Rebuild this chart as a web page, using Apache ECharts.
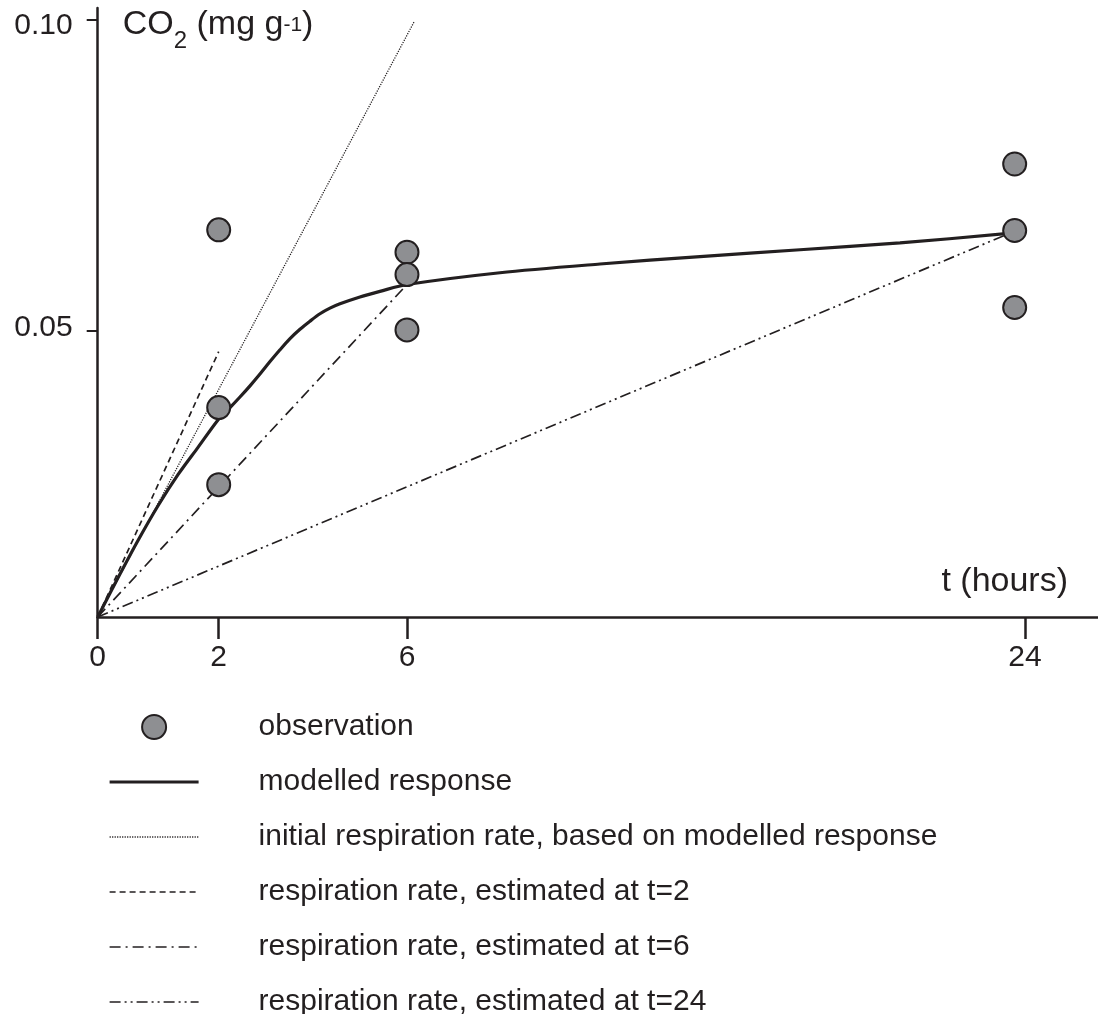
<!DOCTYPE html>
<html>
<head>
<meta charset="utf-8">
<title>CO2 respiration</title>
<script src="https://cdn.jsdelivr.net/npm/echarts@6/dist/echarts.min.js"></script>
<style>
  html, body { margin: 0; padding: 0; background: #fff; }
  #chart { width: 1098px; height: 1014px; }
</style>
</head>
<body>
<div id="chart"></div>
<script>
// ---- data ----
// hour ticks shown on the time axis
const hourTicks = [0, 2, 6, 24];
// CO2 ticks shown on the vertical axis
const co2Ticks = [0.05, 0.10];

// observations
const obsHours = [2, 2, 2, 6, 6, 6, 23.7, 23.7, 23.7];
const obsCO2 = [0.0662, 0.0376, 0.0252, 0.0626, 0.0590, 0.0501, 0.0768, 0.0661, 0.0537];

// modelled response curve
const modelHours = [0, 0.336, 0.666, 0.997, 1.327, 1.658, 2.006, 2.240, 2.452, 2.665, 2.877, 3.090,
  3.302, 3.515, 3.727, 3.939, 4.152, 4.364, 4.577, 5.001, 5.426, 6, 8.709, 11.622, 14.535, 17.448, 20.36, 23.68];
const modelCO2 = [0.0039, 0.0102, 0.0162, 0.0218, 0.0268, 0.0312, 0.0358, 0.0376, 0.0393, 0.0411, 0.0430, 0.0450,
  0.0469, 0.0487, 0.0502, 0.0515, 0.0527, 0.0536, 0.0543, 0.0554, 0.0563, 0.0574, 0.0593, 0.0607, 0.0619, 0.0630, 0.0641, 0.0657];

// respiration-rate lines (start, end)
const initialHours = [0, 6.21];
const initialCO2 = [0.0039, 0.0997];
const rate2Hours = [0, 2];
const rate2CO2 = [0.0039, 0.0466];
const rate6Hours = [0, 6];
const rate6CO2 = [0.0039, 0.0574];
const rate24Hours = [0, 23.7];
const rate24CO2 = [0.0039, 0.0660];

// ---- time axis scale: piecewise-linear, compressed beyond 2 h ----
const X_SCALE = { hours: [0, 2, 6, 24], units: [0, 2, 5.112, 15.327] };
const X_MAX = 16.534;
const Y_MIN = 0.0039;
const Y_MAX = 0.1019;

function toUnits(h) {
  const H = X_SCALE.hours, U = X_SCALE.units;
  for (let i = 1; i < H.length; i++) {
    if (h <= H[i] || i === H.length - 1) {
      const f = (h - H[i - 1]) / (H[i] - H[i - 1]);
      return U[i - 1] + f * (U[i] - U[i - 1]);
    }
  }
  return U[U.length - 1];
}
function pairs(hs, vs) { return hs.map((h, i) => [toUnits(h), vs[i]]); }

const INK = '#231f20';
const FONT = '"Liberation Sans", Arial, Helvetica, sans-serif';
const hourTickUnits = hourTicks.map(toUnits);

const NAMES = {
  obs: 'observation',
  model: 'modelled response',
  initial: 'initial respiration rate, based on modelled response',
  r2: 'respiration rate, estimated at t=2',
  r6: 'respiration rate, estimated at t=6',
  r24: 'respiration rate, estimated at t=24'
};

// line widths and dash patterns per line series
const STYLE = {
  model: { width: 3.2, type: 'solid' },
  initial: { width: 1.3, type: [1.2, 1.3] },
  r2: { width: 1.7, type: [6, 4] },
  r6: { width: 1.7, type: [11, 5, 2, 5] },
  r24: { width: 1.7, type: [11, 4, 2, 4, 2, 4] }
};

function rateLine(key, hs, vs) {
  return {
    name: NAMES[key], type: 'line', data: pairs(hs, vs),
    symbol: 'none', silent: true, z: 2,
    lineStyle: { color: INK, width: STYLE[key].width, type: STYLE[key].type },
    itemStyle: { color: INK }
  };
}
function legendLine(key) {
  return { name: NAMES[key], itemStyle: { opacity: 0 }, lineStyle: { width: STYLE[key].width, type: STYLE[key].type, color: INK } };
}

// rich-text pieces of the CO2 axis title; every piece has the same total height (60)
// so the vertical padding alone sets where each piece sits
const richPiece = (size, lh, top) => ({
  fontSize: size, lineHeight: lh, color: INK, fontFamily: FONT,
  padding: [top, 0, 60 - lh - top, 0]
});

const chart = echarts.init(document.getElementById('chart'), null, { renderer: 'canvas' });
chart.setOption({
  animation: false,
  backgroundColor: '#ffffff',
  textStyle: { fontFamily: FONT, color: INK },
  grid: { left: 97.7, right: 0, top: 8, bottom: 397, containLabel: false, outerBoundsMode: 'none' },
  xAxis: {
    type: 'value', min: 0, max: X_MAX,
    name: 't (hours)', nameLocation: 'end', nameGap: -30,
    nameTextStyle: { fontSize: 34, color: INK, fontFamily: FONT, align: 'right', verticalAlign: 'bottom', padding: [0, 0, 18, 0] },
    axisLine: { onZero: false, lineStyle: { color: INK, width: 2.5 } },
    axisTick: { customValues: hourTickUnits, length: 22, lineStyle: { color: INK, width: 2.5 } },
    axisLabel: {
      customValues: hourTickUnits, fontSize: 30, color: INK, fontFamily: FONT, margin: 26,
      formatter: function (v) {
        let best = 0;
        hourTickUnits.forEach((u, i) => { if (Math.abs(u - v) < Math.abs(hourTickUnits[best] - v)) best = i; });
        return String(hourTicks[best]);
      }
    },
    splitLine: { show: false }
  },
  yAxis: {
    type: 'value', min: Y_MIN, max: Y_MAX,
    name: '{m|CO}{s|2}{m| (mg g}{p|-1}{m|)}', nameLocation: 'end', nameGap: -4.3,
    nameTextStyle: {
      align: 'left', verticalAlign: 'top', padding: [0, 0, 0, 25],
      rich: {
        m: richPiece(34, 34, 8.5),
        s: richPiece(24, 24, 29.7),
        p: richPiece(21, 21, 15.5)
      }
    },
    axisLine: { onZero: false, lineStyle: { color: INK, width: 2.5 } },
    axisTick: { customValues: co2Ticks, length: 11, lineStyle: { color: INK, width: 2 } },
    axisLabel: {
      customValues: co2Ticks, color: INK, fontFamily: FONT, margin: 25,
      // the top label sits a little below its tick, the lower one a little above
      formatter: v => (v > 0.075 ? '{lo|' : '{hi|') + v.toFixed(2) + '}',
      rich: {
        lo: { fontSize: 30, lineHeight: 30, color: INK, fontFamily: FONT, padding: [12, 0, 0, 0] },
        hi: { fontSize: 30, lineHeight: 30, color: INK, fontFamily: FONT, padding: [0, 0, 5, 0] }
      }
    },
    splitLine: { show: false }
  },
  legend: {
    orient: 'vertical', left: 108, top: 712, padding: 0, height: 420,
    itemWidth: 89, itemHeight: 24, itemGap: 25, selectedMode: false,
    textStyle: { fontSize: 30, color: INK, fontFamily: FONT, padding: [0, 0, 0, 55] },
    data: [
      { name: NAMES.obs },
      legendLine('model'),
      legendLine('initial'),
      legendLine('r2'),
      legendLine('r6'),
      legendLine('r24')
    ]
  },
  series: [
    rateLine('initial', initialHours, initialCO2),
    rateLine('r2', rate2Hours, rate2CO2),
    rateLine('r6', rate6Hours, rate6CO2),
    rateLine('r24', rate24Hours, rate24CO2),
    {
      name: NAMES.model, type: 'line', data: pairs(modelHours, modelCO2),
      symbol: 'none', smooth: 0.3, silent: true, z: 3,
      lineStyle: { color: INK, width: STYLE.model.width },
      itemStyle: { color: INK }
    },
    {
      name: NAMES.obs, type: 'scatter', data: pairs(obsHours, obsCO2),
      symbol: 'circle', symbolSize: 23, z: 5, silent: true,
      itemStyle: { color: '#8e8f92', borderColor: INK, borderWidth: 2, opacity: 1 }
    }
  ]
});
</script>
</body>
</html>
